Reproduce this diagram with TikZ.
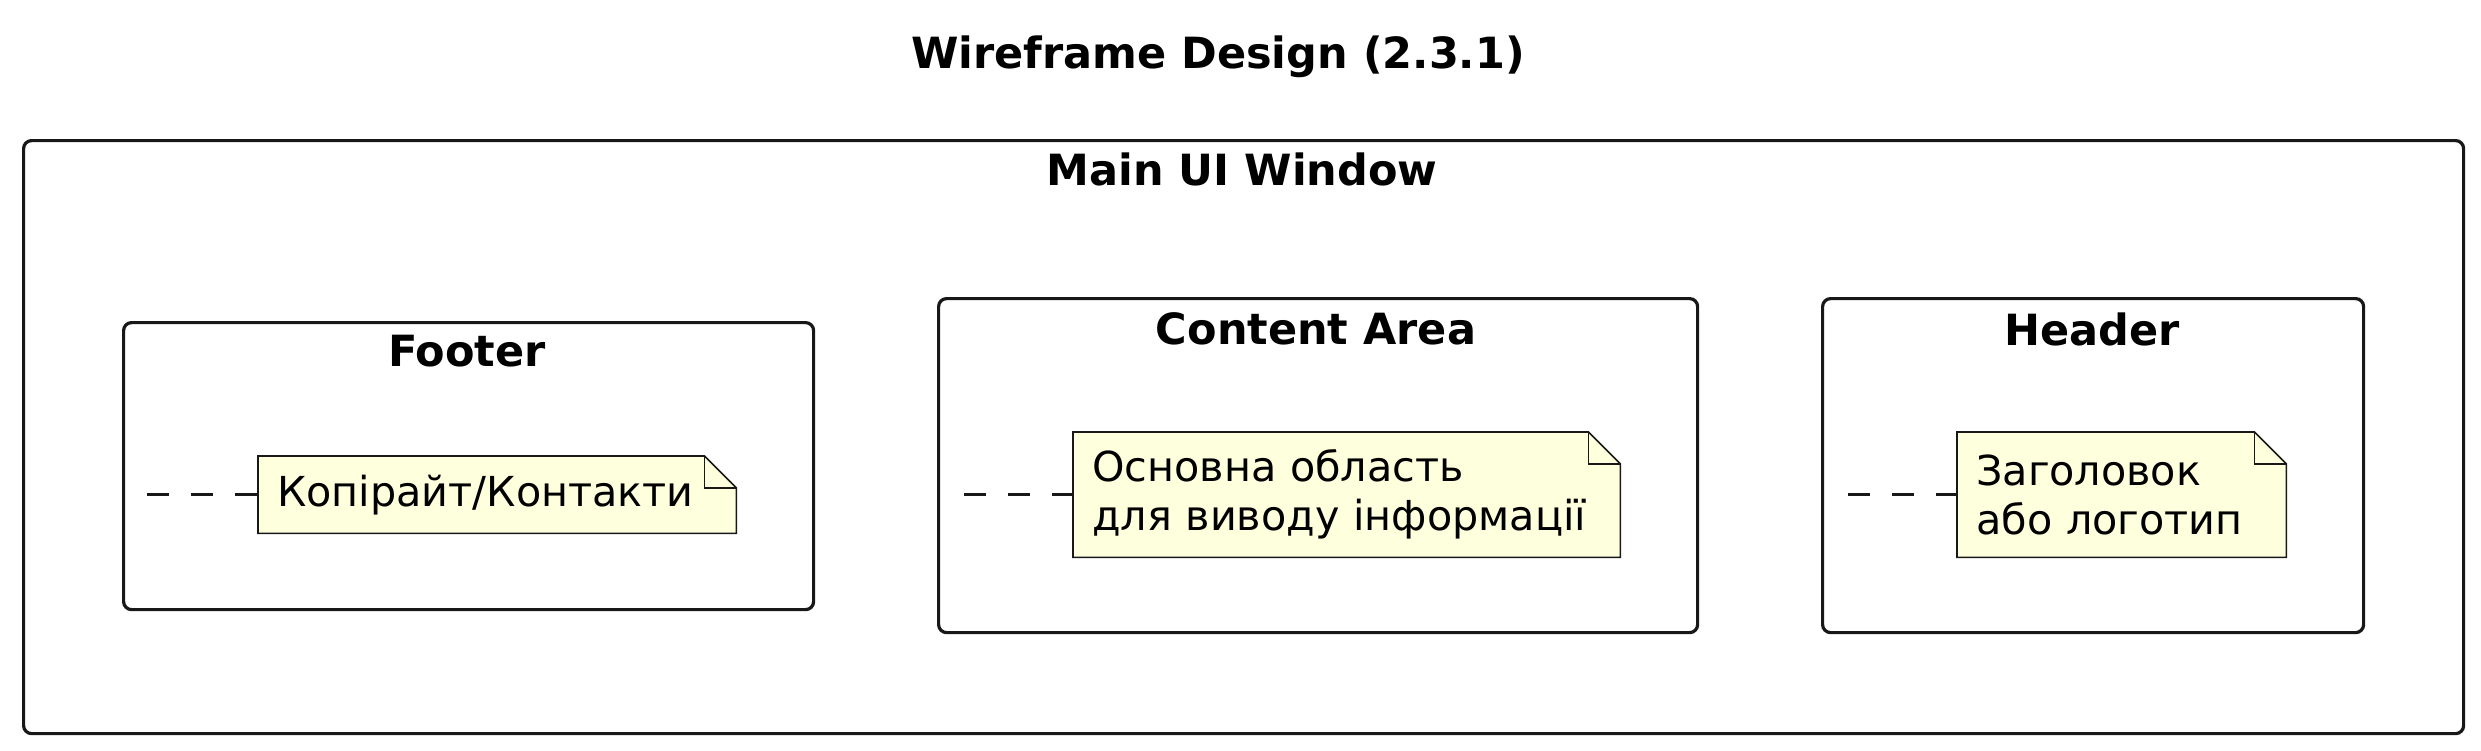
\documentclass[tikz,border=0pt]{standalone}
\usepackage{fontspec}
\setmainfont{DejaVu Sans}
\usetikzlibrary{backgrounds}
\definecolor{notefill}{HTML}{FEFFDD}
\definecolor{linecol}{HTML}{181818}
\tikzset{
  frame/.style={draw=linecol, line width=3.2pt, rounded corners=8pt},
  boxtitle/.style={font=\fontsize{43}{51}\selectfont\bfseries, inner sep=0pt},
  notebox/.style={draw=none, fill=none, inner xsep=19pt, inner ysep=0pt, align=left,
     font=\fontsize{41.3}{49}\selectfont, anchor=north west},
  noteshape/.style={draw=linecol, line width=1.6pt, fill=notefill, line join=miter},
  link/.style={draw=linecol, line width=3pt, dash pattern=on 22pt off 22pt},
}
\begin{document}
\begin{tikzpicture}[x=1pt,y=-1pt]
\useasboundingbox (0,0) rectangle (2481,750);
% title
\node[boxtitle] (title) at (1218,57) {Wireframe Design (2.3.1)};
% outer window
\node[frame, minimum width=2440pt, minimum height=593pt, anchor=north west, inner sep=0pt] (win) at (22,139) {};
\node[boxtitle] (wint) at (1242,169) {Main UI Window};
% footer
\node[frame, minimum width=690pt, minimum height=287pt, anchor=north west, inner sep=0pt] (foot) at (122,321) {};
\node[boxtitle] (foott) at (467,351) {Footer};
\node[notebox, minimum width=478pt, minimum height=77pt, text width=440pt] (fn) at (258,456) {Копірайт/Контакти};
\coordinate (fa) at (147,494);
% content
\node[frame, minimum width=759pt, minimum height=334pt, anchor=north west, inner sep=0pt] (cont) at (937,297) {};
\node[boxtitle] (contt) at (1316,329) {Content Area};
\node[notebox, minimum width=547pt, minimum height=125pt, text width=509pt] (cn) at (1073,432) {Основна область\\для виводу інформації};
\coordinate (ca) at (964,494);
% header
\node[frame, minimum width=541pt, minimum height=334pt, anchor=north west, inner sep=0pt] (head) at (1821,297) {};
\node[boxtitle] (headt) at (2092,329) {Header};
\node[notebox, minimum width=329pt, minimum height=125pt, text width=291pt] (hn) at (1957,432) {Заголовок\\або логотип};
\coordinate (ha) at (1848,494);
% note shapes
\begin{scope}[on background layer]
\foreach \n in {fn,cn,hn}{
  \draw[noteshape] (\n.north west) -- ([xshift=-32pt]\n.north east) -- ([yshift=-32pt]\n.north east) -- (\n.south east) -- (\n.south west) -- cycle;
  \draw[noteshape, fill=none] ([xshift=-32pt]\n.north east) -- ([xshift=-32pt,yshift=-32pt]\n.north east) -- ([yshift=-32pt]\n.north east);
}
\end{scope}
% connectors
\draw[link] (fa) -- (fa -| fn.west);
\draw[link] (ca) -- (ca -| cn.west);
\draw[link] (ha) -- (ha -| hn.west);
\end{tikzpicture}
\end{document}
